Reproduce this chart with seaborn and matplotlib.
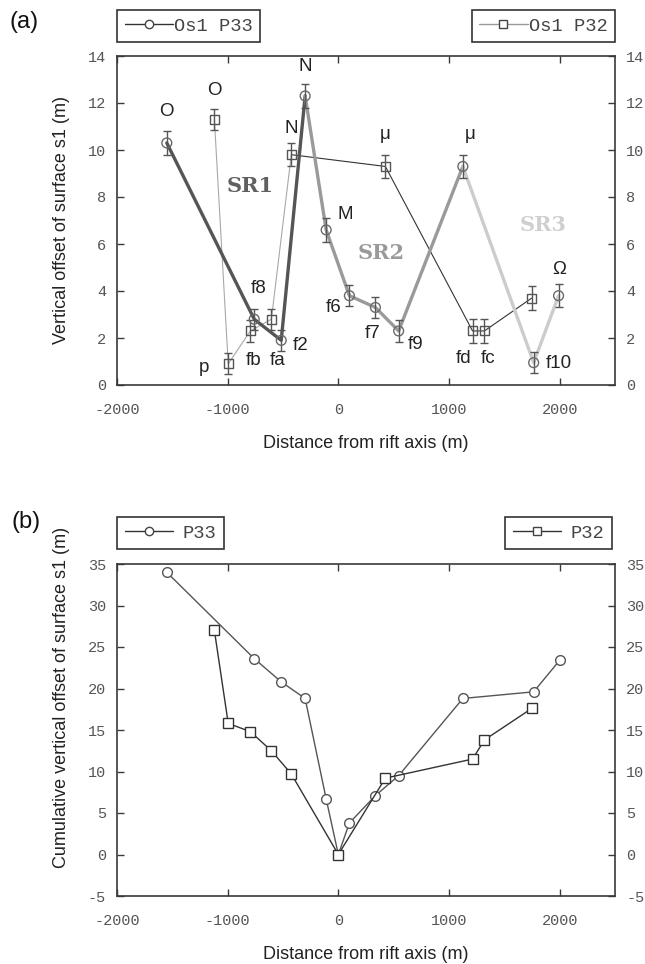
import numpy as np
import pandas as pd
import matplotlib
matplotlib.use("Agg")
import matplotlib.pyplot as plt
from matplotlib.lines import Line2D
import seaborn as sns

# ---------------- data ----------------
p33_names = ["O", "f8", "f2", "N", "M", "f6", "f7", "f9", "mu", "f10", "Omega"]
p33_x = [-1550, -760, -516, -300, -110, 100, 335, 545, 1125, 1765, 1990]
p33_y = [10.3, 2.8, 1.9, 12.3, 6.6, 3.8, 3.3, 2.3, 9.3, 0.95, 3.8]
p33_err = [0.5, 0.45, 0.45, 0.5, 0.5, 0.45, 0.45, 0.45, 0.5, 0.45, 0.5]

p32_names = ["O", "p", "fb", "fa", "N", "mu", "fd", "fc", "last"]
p32_x = [-1120, -995, -795, -605, -425, 425, 1213, 1320, 1748]
p32_y = [11.3, 0.9, 2.3, 2.8, 9.8, 9.3, 2.3, 2.3, 3.7]
p32_err = [0.45, 0.45, 0.45, 0.45, 0.5, 0.5, 0.5, 0.5, 0.5]

cum33_x = [-1550, -760, -516, -300, -110, 0, 100, 335, 545, 1125, 1765, 2000]
cum33_y = [34.0, 23.6, 20.8, 18.8, 6.7, 0.0, 3.8, 7.1, 9.5, 18.8, 19.6, 23.4]
cum32_x = [-1120, -995, -795, -605, -425, 0, 425, 1213, 1320, 1748]
cum32_y = [27.0, 15.8, 14.8, 12.5, 9.7, 0.0, 9.2, 11.5, 13.8, 17.6]

xticks = [-2000, -1000, 0, 1000, 2000]
yticks_a = [0, 2, 4, 6, 8, 10, 12, 14]
yticks_b = [-5, 0, 5, 10, 15, 20, 25, 30, 35]

# point labels (text, x, y)
labels_a = [
    ("O", -1557, 11.65), ("O", -1122, 12.55), ("N", -425, 10.9), ("N", -299, 13.55),
    ("M", 63, 7.25), ("\u03bc", 425, 10.65), ("\u03bc", 1195, 10.65), ("\u03a9", 2000, 4.9),
    ("p", -1212, 0.75), ("fb", -769, 1.05), ("fa", -552, 1.05), ("f2", -344, 1.7),
    ("f8", -724, 4.1), ("f6", -45, 3.3), ("f7", 308, 2.2), ("f9", 697, 1.73),
    ("fd", 1131, 1.14), ("fc", 1357, 1.14), ("f10", 1990, 0.93),
]
sr_labels = [("SR1", -796, 8.45, "#606060"), ("SR2", 390, 5.6, "#9a9a9a"), ("SR3", 1855, 6.8, "#cfcfcf")]

# ---------------- style ----------------
sns.set_style("ticks")
plt.rcParams["font.family"] = ["Liberation Sans", "DejaVu Sans"]
plt.rcParams["axes.unicode_minus"] = False

fig = plt.figure(figsize=(6.45, 9.64), dpi=100)
ax1 = fig.add_axes([117 / 645, 1 - 385 / 964, 498 / 645, 329 / 964])
ax2 = fig.add_axes([117 / 645, 1 - 896 / 964, 498 / 645, 332 / 964])

frame_c = "#3a3a3a"
tick_c = "#555555"


def style_axes(ax, yticks, ylim):
    ax.set_xlim(-2000, 2500)
    ax.set_ylim(*ylim)
    ax.set_xticks(xticks)
    ax.set_yticks(yticks)
    ax.tick_params(direction="in", top=True, right=True, labelright=True,
                   length=5, width=1, color=frame_c, labelcolor=tick_c, labelsize=11)
    ax.tick_params(axis="x", pad=13)
    ax.tick_params(axis="y", pad=8)
    for lab in ax.get_xticklabels() + ax.get_yticklabels():
        lab.set_family("Liberation Mono")
    for lab in ax.yaxis.get_ticklabels(which="both"):
        lab.set_family("Liberation Mono")
    for s in ax.spines.values():
        s.set_visible(True)
        s.set_color(frame_c)
        s.set_linewidth(1.2)
    ax.set_xlabel("Distance from rift axis (m)", fontsize=13, color="#222222", labelpad=13)


# ---------------- panel (a) ----------------
df33 = pd.DataFrame({"x": p33_x, "y": p33_y})
df32 = pd.DataFrame({"x": p32_x, "y": p32_y})

segs33 = [(slice(0, 4), "#555555"), (slice(3, 9), "#9a9a9a"), (slice(8, 11), "#cccccc")]
for sl, c in segs33:
    sns.lineplot(data=df33.iloc[sl], x="x", y="y", sort=False, estimator=None,
                 color=c, linewidth=2.4, ax=ax1, zorder=2)

segs32 = [(slice(0, 5), "#a8a8a8"), (slice(4, 9), "#333333")]
for sl, c in segs32:
    sns.lineplot(data=df32.iloc[sl], x="x", y="y", sort=False, estimator=None,
                 color=c, linewidth=0.8, ax=ax1, zorder=1)

ax1.errorbar(p33_x, p33_y, yerr=p33_err, fmt="none", ecolor="#555555",
             elinewidth=1.0, capsize=3, capthick=1.0, zorder=3)
ax1.errorbar(p32_x, p32_y, yerr=p32_err, fmt="none", ecolor="#555555",
             elinewidth=1.0, capsize=3, capthick=1.0, zorder=3)
sns.scatterplot(data=df33, x="x", y="y", marker="o", s=50, facecolor="none",
                edgecolor="#6a6a6a", linewidth=1.0, ax=ax1, zorder=4)
sns.scatterplot(data=df32, x="x", y="y", marker="s", s=42, facecolor="none",
                edgecolor="#555555", linewidth=1.0, ax=ax1, zorder=4)

for t, x, y in labels_a:
    ax1.text(x, y, t, fontsize=13.5, ha="center", va="center", color="#222222", zorder=5)
for t, x, y, c in sr_labels:
    ax1.text(x, y, t, fontsize=15, ha="center", va="center", color=c,
             family="DejaVu Serif", fontweight="bold", zorder=5)

style_axes(ax1, yticks_a, (0, 14))
ax1.set_ylabel("")
fig.text(62 / 645, 1 - 220 / 964, "Vertical offset of surface s1 (m)", rotation=90,
         ha="center", va="center", fontsize=13, color="#222222")

# ---------------- panel (b) ----------------
dfc33 = pd.DataFrame({"x": cum33_x, "y": cum33_y})
dfc32 = pd.DataFrame({"x": cum32_x, "y": cum32_y})
sns.lineplot(data=dfc33, x="x", y="y", sort=False, estimator=None, color="#555555",
             linewidth=1.0, marker="o", markersize=7, markerfacecolor="white",
             markeredgecolor="#555555", markeredgewidth=1.0, ax=ax2, zorder=3)
sns.lineplot(data=dfc32, x="x", y="y", sort=False, estimator=None, color="#333333",
             linewidth=1.0, marker="s", markersize=7.5, markerfacecolor="white",
             markeredgecolor="#333333", markeredgewidth=1.0, ax=ax2, zorder=4)
style_axes(ax2, yticks_b, (-5, 35))
ax2.set_ylabel("")
fig.text(62 / 645, 1 - 697 / 964, "Cumulative vertical offset of surface s1 (m)", rotation=90,
         ha="center", va="center", fontsize=13, color="#222222")

# ---------------- legends & panel letters ----------------
def add_legend(label, marker, lc, anchor, loc, textpad):
    h = Line2D([], [], color=lc, linewidth=1.0, marker=marker, markersize=6,
               markerfacecolor="white", markeredgecolor="#444444")
    leg = fig.legend([h], [label], loc=loc, bbox_to_anchor=anchor, frameon=True,
                     fancybox=False, edgecolor="#333333", framealpha=1,
                     prop={"family": "Liberation Mono", "size": 13.5}, handlelength=2.6,
                     handletextpad=textpad, borderpad=0.4, borderaxespad=0)
    leg.get_frame().set_linewidth(1.2)
    for t in leg.get_texts():
        t.set_color("#444444")


add_legend("Os1 P33", "o", "#333333", (117 / 645, 1 - 10 / 964), "upper left", 0.05)
add_legend("Os1 P32", "s", "#999999", (615 / 645, 1 - 10 / 964), "upper right", 0.05)
add_legend("P33", "o", "#333333", (117 / 645, 1 - 517 / 964), "upper left", 0.5)
add_legend("P32", "s", "#333333", (612 / 645, 1 - 517 / 964), "upper right", 0.5)

fig.text(24 / 645, 1 - 22 / 964, "(a)", fontsize=17, ha="center", va="center", color="#111111")
fig.text(26 / 645, 1 - 522 / 964, "(b)", fontsize=17, ha="center", va="center", color="#111111")

fig.savefig("out.png", dpi=100)
